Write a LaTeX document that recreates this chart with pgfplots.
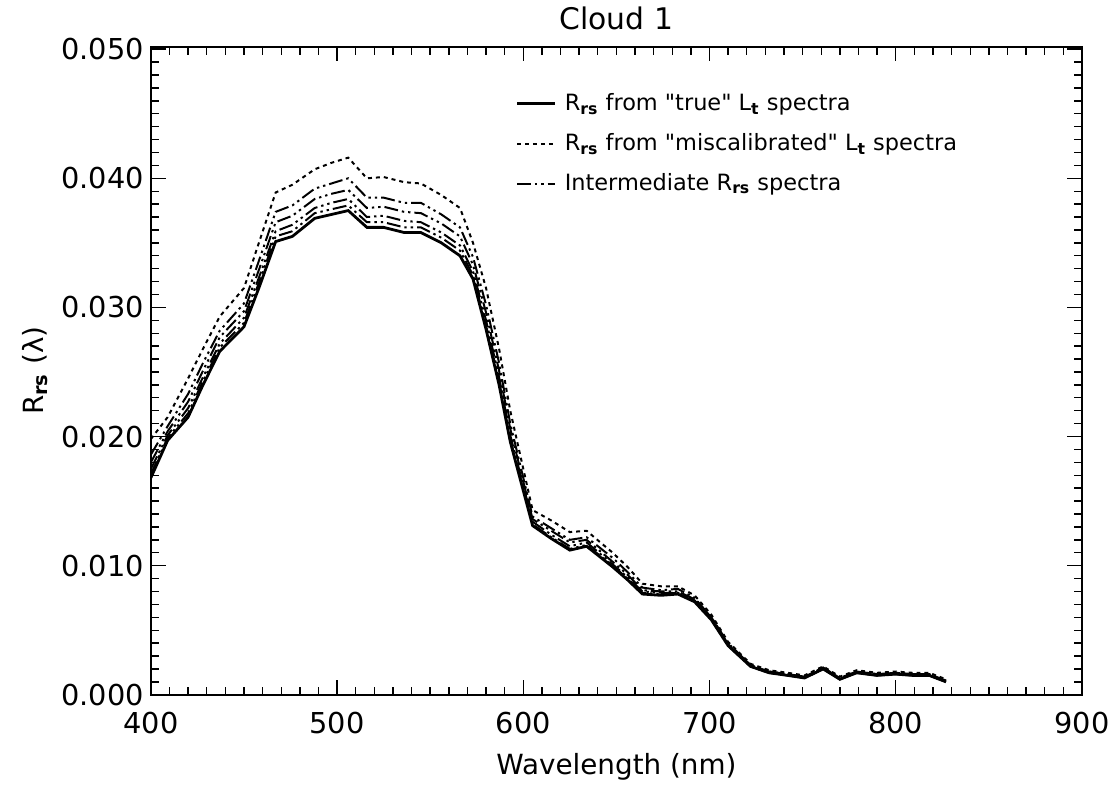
\documentclass[border=0pt]{standalone}
\usepackage{fontspec}
\setmainfont{DejaVu Sans}
\usepackage{pgfplots}
\pgfplotsset{compat=1.18}
\begin{document}
\begin{tikzpicture}
\begin{axis}[
  scale only axis, width=469pt, height=326.5pt,
  xmin=400, xmax=900, ymin=0, ymax=0.0502,
  xtick={400,500,600,700,800,900},
  ytick={0,0.01,0.02,0.03,0.04,0.05},
  minor x tick num=9, minor y tick num=9,
  major tick length=7.5pt, minor tick length=4pt,
  tick style={black, line width=0.7pt},
  axis line style={line width=1pt},
  scaled y ticks=false,
  tick label style={font=\fontsize{14.5}{15}\selectfont},
  yticklabel style={/pgf/number format/.cd, fixed, fixed zerofill, precision=3, assume math mode=true},
  xticklabel style={yshift=-5pt, /pgf/number format/.cd, assume math mode=true},
  title={Cloud 1},
  title style={font=\fontsize{15}{16}\selectfont, yshift=-1pt},
  xlabel={Wavelength (nm)},
  xlabel style={font=\fontsize{14}{15}\selectfont, yshift=-3pt},
  ylabel={R\textsubscript{\textbf{rs}} (λ)},
  ylabel style={font=\fontsize{14}{15}\selectfont},
  legend style={draw=none, fill=none, at={(0.385,0.94)}, anchor=north west,
    font=\fontsize{11.3}{12}\selectfont, row sep=6pt, legend cell align=left,
    nodes={inner xsep=4pt}},
  legend image code/.code={\draw[#1] (0cm,0cm) -- (0.68cm,0cm);},
]
% true
\addplot[black, line width=1.4pt] coordinates {
(400,0.0168)(409,0.0197)(420,0.0215)(428,0.0240)(437,0.0266)(450,0.0285)(458,0.0315)(467,0.0351)(476,0.0355)(488,0.0369)(497,0.0372)(506,0.0375)(516,0.0362)(525,0.0362)(536,0.0358)(545,0.0358)(556,0.0350)(566,0.0340)(573,0.0322)(580,0.0283)(587,0.0240)(593,0.0196)(600,0.0158)(605,0.0131)(615,0.0121)(625,0.0112)(634,0.0115)(648,0.0099)(656,0.0089)(664,0.0078)(674,0.0077)(683,0.0078)(692,0.0072)(701,0.0058)(710,0.0038)(722,0.0022)(732,0.0017)(742,0.0015)(751,0.0013)(761,0.0020)(770,0.0012)(779,0.0017)(790,0.0015)(800,0.0016)(809,0.0015)(818,0.0015)(827,0.0010)
};
\addlegendentry{R\textsubscript{\textbf{rs}} from \textquotedbl true\textquotedbl\ L\textsubscript{\textbf{t}} spectra}
% miscalibrated
\addplot[black, line width=1pt, dash pattern=on 2pt off 2pt] coordinates {
(400,0.0198)(409,0.0215)(420,0.0245)(428,0.0268)(437,0.0293)(450,0.0315)(458,0.0350)(467,0.0389)(476,0.0395)(488,0.0407)(497,0.0412)(506,0.0416)(516,0.0400)(525,0.0401)(536,0.0397)(545,0.0396)(556,0.0387)(566,0.0377)(573,0.0350)(580,0.0315)(587,0.0268)(593,0.0220)(600,0.0175)(605,0.0143)(615,0.0135)(625,0.0126)(634,0.0127)(648,0.0110)(656,0.0099)(664,0.0086)(674,0.0084)(683,0.0084)(692,0.0077)(701,0.0062)(710,0.0041)(722,0.0024)(732,0.0019)(742,0.0017)(751,0.0015)(761,0.0022)(770,0.0014)(779,0.0019)(790,0.0017)(800,0.0018)(809,0.0017)(818,0.0017)(827,0.0012)
};
\addlegendentry{R\textsubscript{\textbf{rs}} from \textquotedbl miscalibrated\textquotedbl\ L\textsubscript{\textbf{t}} spectra}
% intermediates
\addplot[black, line width=1pt, dash pattern=on 7pt off 2pt on 1.2pt off 2pt on 1.2pt off 2pt] coordinates {
(400,0.0186)(409,0.0208)(420,0.0233)(428,0.0257)(437,0.0282)(450,0.0303)(458,0.0336)(467,0.0374)(476,0.0379)(488,0.0392)(497,0.0396)(506,0.0400)(516,0.0385)(525,0.0385)(536,0.0381)(545,0.0381)(556,0.0372)(566,0.0362)(573,0.0339)(580,0.0302)(587,0.0257)(593,0.0210)(600,0.0168)(605,0.0138)(615,0.0129)(625,0.0120)(634,0.0122)(648,0.0106)(656,0.0095)(664,0.0083)(674,0.0081)(683,0.0082)(692,0.0075)(701,0.0060)(710,0.0040)(722,0.0023)(732,0.0018)(742,0.0016)(751,0.0014)(761,0.0021)(770,0.0013)(779,0.0018)(790,0.0016)(800,0.0017)(809,0.0016)(818,0.0016)(827,0.0011)
};
\addlegendentry{Intermediate R\textsubscript{\textbf{rs}} spectra}
\addplot[black, line width=1pt, dash pattern=on 7pt off 2pt on 1.2pt off 2pt on 1.2pt off 2pt, forget plot] coordinates {
(400,0.0180)(409,0.0204)(420,0.0227)(428,0.0251)(437,0.0277)(450,0.0297)(458,0.0329)(467,0.0366)(476,0.0371)(488,0.0384)(497,0.0388)(506,0.0391)(516,0.0377)(525,0.0378)(536,0.0374)(545,0.0373)(556,0.0365)(566,0.0355)(573,0.0333)(580,0.0296)(587,0.0251)(593,0.0206)(600,0.0165)(605,0.0136)(615,0.0127)(625,0.0118)(634,0.0120)(648,0.0103)(656,0.0093)(664,0.0081)(674,0.0080)(683,0.0080)(692,0.0074)(701,0.0060)(710,0.0039)(722,0.0023)(732,0.0018)(742,0.0016)(751,0.0014)(761,0.0021)(770,0.0013)(779,0.0018)(790,0.0016)(800,0.0017)(809,0.0016)(818,0.0016)(827,0.0011)
};
\addplot[black, line width=1pt, dash pattern=on 7pt off 2pt on 1.2pt off 2pt on 1.2pt off 2pt, forget plot] coordinates {
(400,0.0175)(409,0.0201)(420,0.0222)(428,0.0246)(437,0.0272)(450,0.0292)(458,0.0323)(467,0.0359)(476,0.0364)(488,0.0377)(497,0.0381)(506,0.0384)(516,0.0370)(525,0.0371)(536,0.0367)(545,0.0366)(556,0.0358)(566,0.0348)(573,0.0328)(580,0.0290)(587,0.0246)(593,0.0201)(600,0.0162)(605,0.0134)(615,0.0124)(625,0.0115)(634,0.0118)(648,0.0101)(656,0.0091)(664,0.0080)(674,0.0079)(683,0.0079)(692,0.0073)(701,0.0059)(710,0.0039)(722,0.0022)(732,0.0017)(742,0.0015)(751,0.0013)(761,0.0020)(770,0.0012)(779,0.0017)(790,0.0015)(800,0.0016)(809,0.0015)(818,0.0015)(827,0.0010)
};
\addplot[black, line width=1pt, dash pattern=on 7pt off 2pt on 1.2pt off 2pt on 1.2pt off 2pt, forget plot] coordinates {
(400,0.0171)(409,0.0199)(420,0.0218)(428,0.0243)(437,0.0269)(450,0.0288)(458,0.0319)(467,0.0355)(476,0.0359)(488,0.0373)(497,0.0376)(506,0.0379)(516,0.0366)(525,0.0366)(536,0.0362)(545,0.0362)(556,0.0354)(566,0.0344)(573,0.0325)(580,0.0286)(587,0.0243)(593,0.0198)(600,0.0160)(605,0.0132)(615,0.0122)(625,0.0113)(634,0.0116)(648,0.0100)(656,0.0090)(664,0.0079)(674,0.0078)(683,0.0079)(692,0.0073)(701,0.0058)(710,0.0038)(722,0.0022)(732,0.0017)(742,0.0015)(751,0.0013)(761,0.0020)(770,0.0012)(779,0.0017)(790,0.0015)(800,0.0016)(809,0.0015)(818,0.0015)(827,0.0010)
};
\end{axis}
\path ([xshift=-76pt,yshift=-43.5pt]current axis.south west) rectangle ([xshift=13pt,yshift=22pt]current axis.north east);
\end{tikzpicture}
\end{document}
